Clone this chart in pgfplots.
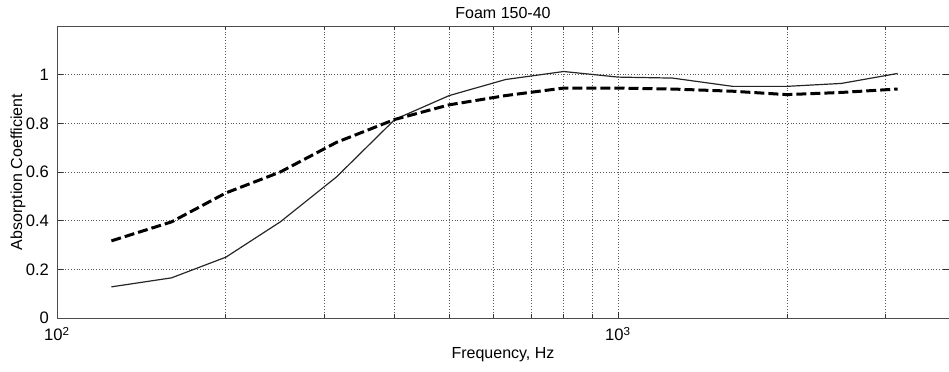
\documentclass[border=0pt]{standalone}
\usepackage{pgfplots}
\pgfplotsset{compat=1.18}
\usepackage{fontspec}
\setmainfont{Liberation Sans}
\begin{document}
\begin{tikzpicture}
\begin{axis}[
  scale only axis,
  width=446pt, height=146pt,
  xmode=log, xmin=100, xmax=3890,
  ymin=0, ymax=1.2,
  ytick={0,0.2,0.4,0.6,0.8,1},
  yticklabels={0,0.2,0.4,0.6,0.8,1},
  xtick={100,1000},
  xticklabels={10\textsuperscript{2},10\textsuperscript{3}},
  minor xtick={200,300,400,500,600,700,800,900,2000,3000},
  tick align=inside,
  major tick length=3pt, minor tick length=1.8pt,
  grid=both,
  major grid style={densely dotted, black!65, line width=0.4pt},
  minor grid style={densely dotted, black!65, line width=0.4pt},
  axis line style={black!70, line width=0.5pt},
  tick style={black!80, line width=0.4pt},
  ticklabel style={font=\fontsize{8.3}{9}\selectfont},
  yticklabel style={xshift=-0.5pt},
  xticklabel style={yshift=-1pt},
  title={Foam 150-40},
  title style={font=\fontsize{8}{9}\selectfont, at={(axis description cs:0.5,1)}, anchor=center, yshift=0.5pt},
  xlabel={Frequency, Hz},
  xlabel style={font=\fontsize{8}{9}\selectfont, at={(axis description cs:0.5,0)}, anchor=center, yshift=-18.5pt},
  ylabel={Absorption Coefficient},
  ylabel style={font=\fontsize{8}{9}\selectfont, at={(axis description cs:0,0.5)}, anchor=center, yshift=19.5pt},
]
\addplot[black!85, line width=0.6pt] coordinates {
(125,0.128) (160,0.165) (200,0.25) (250,0.395) (315,0.58) (400,0.816)
(500,0.914) (630,0.98) (800,1.013) (1000,0.99) (1250,0.986) (1600,0.952)
(2000,0.952) (2500,0.964) (3150,1.005)
};
\addplot[black, line width=1.5pt, dash pattern=on 5pt off 2pt] coordinates {
(125,0.317) (160,0.395) (200,0.514) (250,0.60) (315,0.722) (400,0.816)
(500,0.876) (630,0.914) (800,0.945) (1000,0.945) (1250,0.941) (1600,0.932)
(2000,0.918) (2500,0.927) (3150,0.941)
};
\end{axis}
\pgfresetboundingbox
\path (-28.5pt,-26.5pt) rectangle (446pt,159pt);
\end{tikzpicture}
\end{document}
